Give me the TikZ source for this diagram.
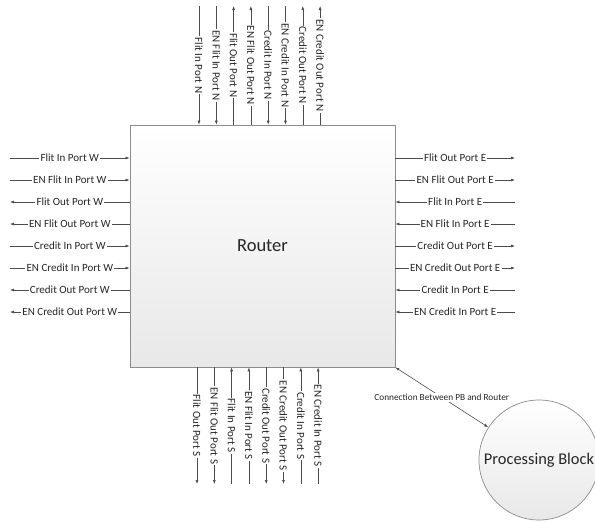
\documentclass[tikz,border=0pt]{standalone}
\usepackage{fontspec}
\setmainfont{Carlito}
\usetikzlibrary{arrows.meta}
\begin{document}
\begin{tikzpicture}[x=1pt,y=-1pt,
  >={Latex[length=4pt,width=3pt]},
  wire/.style={draw=black!70, line width=0.6pt},
  lab/.style={fill=white, inner sep=1.2pt, text=black!85, font=\fontsize{11}{12}\selectfont},
  vlab/.style={lab, rotate=-90},
  shaded/.style={draw=black!45, line width=0.7pt, top color=white, bottom color=black!9}]
\useasboundingbox (0,0) rectangle (595,522);
\clip (0,0) rectangle (595,522);
\node[shaded, rectangle, minimum width=265pt, minimum height=242pt, inner sep=0pt,
      text=black!85, font=\fontsize{18.5}{20}\selectfont] (router) at (262.5,246) {Router};
% North
\foreach \t/\d [count=\i from 0] in {Flit In Port N/->, EN Flit In Port N/->, Flit Out Port N/<-, EN Flit Out Port N/<-,
    Credit In Port N/->, EN Credit In Port N/->, Credit Out Port N/<-, EN Credit Out Port N/<-}{
  \coordinate (n\i) at ({199+17.3*\i},6);
  \draw[wire,\d] (n\i) -- (n\i |- router.north) node[midway, vlab] (nl\i) {\t};
}
% South
\foreach \t/\d [count=\i from 0] in {Flit Out Port S/<-, EN Flit Out Port S/<-, Flit In Port S/->, EN Flit In Port S/->,
    Credit Out Port S/<-, EN Credit Out Port S/<-, Credit In Port S/->, EN Credit In Port S/->}{
  \coordinate (s\i) at ({197+17.3*\i},484);
  \draw[wire,\d] (s\i) -- (s\i |- router.south) node[midway, vlab] (sl\i) {\t};
}
% West
\foreach \t/\d [count=\i from 0] in {Flit In Port W/->, EN Flit In Port W/->, Flit Out Port W/<-, EN Flit Out Port W/<-,
    Credit In Port W/->, EN Credit In Port W/->, Credit Out Port W/<-, EN Credit Out Port W/<-}{
  \coordinate (w\i) at (10,{158+22*\i});
  \draw[wire,\d] (w\i) -- (w\i -| router.west) node[midway, lab] (wl\i) {\t};
}
% East
\foreach \t/\d [count=\i from 0] in {Flit Out Port E/<-, EN Flit Out Port E/<-, Flit In Port E/->, EN Flit In Port E/->,
    Credit Out Port E/<-, EN Credit Out Port E/<-, Credit In Port E/->, EN Credit In Port E/->}{
  \coordinate (e\i) at (515,{158+22*\i});
  \draw[wire,\d] (e\i) -- (e\i -| router.east) node[midway, lab] (el\i) {\t};
}
% Processing block
\node[shaded, circle, minimum size=120pt, inner sep=0pt, text=black!85,
      font=\fontsize{16.4}{18}\selectfont] (pb) at (539,460) {Processing Block};
\draw[wire,<->] (router.south east) -- (pb)
  node[midway, lab, font=\fontsize{9.3}{11}\selectfont] (cl) {Connection Between PB and Router};
\end{tikzpicture}
\end{document}
